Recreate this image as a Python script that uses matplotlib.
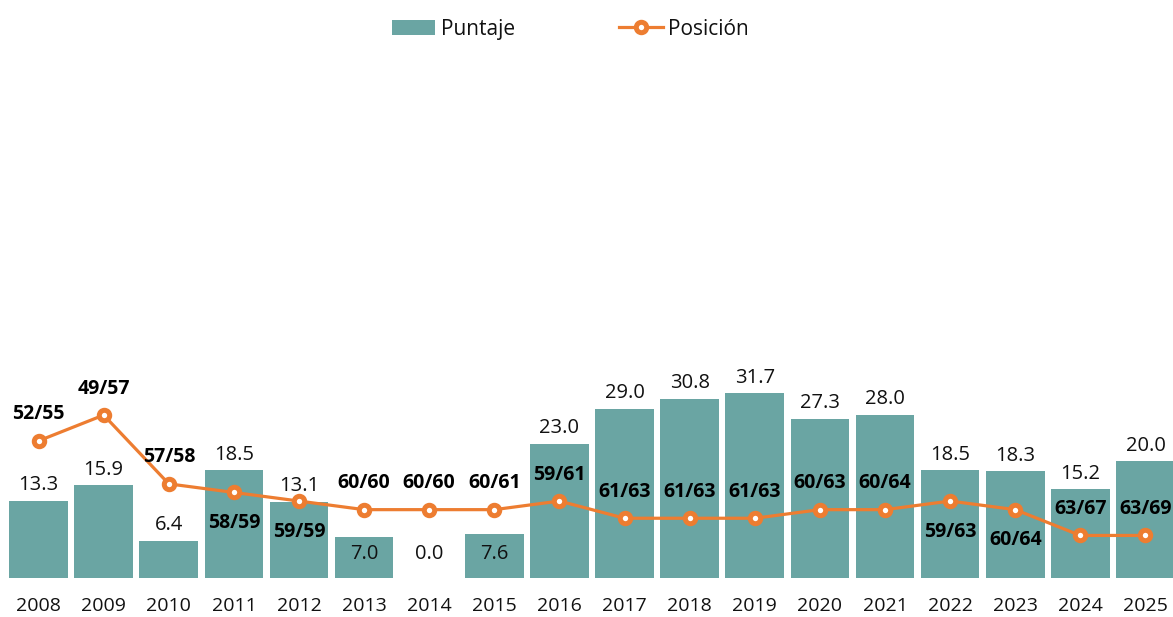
import matplotlib.pyplot as plt
from matplotlib.patches import Patch
from matplotlib.lines import Line2D

plt.rcParams['font.family'] = ['Open Sans', 'DejaVu Sans']

# data
years = ['2008', '2009', '2010', '2011', '2012', '2013', '2014', '2015', '2016',
         '2017', '2018', '2019', '2020', '2021', '2022', '2023', '2024', '2025']
puntaje = [13.3, 15.9, 6.4, 18.5, 13.1, 7.0, 0.0, 7.6, 23.0,
           29.0, 30.8, 31.7, 27.3, 28.0, 18.5, 18.3, 15.2, 20.0]
posicion = [52, 49, 57, 58, 59, 60, 60, 60, 59, 61, 61, 61, 60, 60, 59, 60, 63, 63]
total = [55, 57, 58, 59, 59, 60, 60, 61, 61, 63, 63, 63, 63, 64, 63, 64, 67, 69]

# label placement (True = rank label above marker, bar label near baseline)
rank_above = [True, True, True, False, False, True, True, True, True,
              True, True, True, True, True, False, False, True, True]
bar_low = [False] * 5 + [True, True, True] + [False] * 10

teal = '#6aa5a3'
orange = '#ed7d31'
txt = '#111111'

fig = plt.figure(figsize=(11.73, 6.17), dpi=100)
W, H = 1173, 617
ax = fig.add_axes([6 / W, (H - 578) / H, 1172 / W, 518 / H])
x = list(range(len(years)))

ax.bar(x, puntaje, width=0.9, color=teal, zorder=2)
ax.set_xlim(-0.5, len(years) - 0.5)
ax.set_ylim(0, 88.9)
ax.set_xticks(x)
ax.set_xticklabels(years, fontsize=14, color=txt)
ax.tick_params(axis='x', length=0, pad=14)
ax.set_yticks([])
for s in ax.spines.values():
    s.set_visible(False)

for xi, v, low in zip(x, puntaje, bar_low):
    if low:
        ax.annotate(f'{v:.1f}', (xi, 0), xytext=(0, 10), textcoords='offset points',
                    ha='center', va='bottom', fontsize=14.5, color=txt, zorder=5)
    else:
        ax.annotate(f'{v:.1f}', (xi, v), xytext=(0, 4), textcoords='offset points',
                    ha='center', va='bottom', fontsize=14.5, color=txt, zorder=5)

ax2 = ax.twinx()
ax2.set_zorder(ax.get_zorder() + 1)
ax2.patch.set_visible(False)
ax2.plot(x, posicion, color=orange, lw=2.3, marker='o', markersize=7.5,
         markerfacecolor='white', markeredgecolor=orange, markeredgewidth=3.6)
ax2.set_ylim(67.95, 7.7)
ax2.set_yticks([])
for s in ax2.spines.values():
    s.set_visible(False)

for xi, p, t, up in zip(x, posicion, total, rank_above):
    dy = 19 if up else -22
    ax2.annotate(f'{p}/{t}', (xi, p), xytext=(0, dy), textcoords='offset points',
                 ha='center', va='center', fontsize=14, fontweight='bold', color='black')

handles = [Patch(facecolor=teal, edgecolor='none'),
           Line2D([], [], color=orange, lw=2.3, marker='o', markersize=7.5,
                  markerfacecolor='white', markeredgecolor=orange, markeredgewidth=3.6)]
fig.legend(handles, ['Puntaje', 'Posición'], loc='upper center', bbox_to_anchor=(0.486, 1.0),
           ncol=2, frameon=False, fontsize=15, handlelength=2.1, handletextpad=0.25,
           columnspacing=5.0, labelcolor=txt)

fig.savefig('out.png', dpi=100)
